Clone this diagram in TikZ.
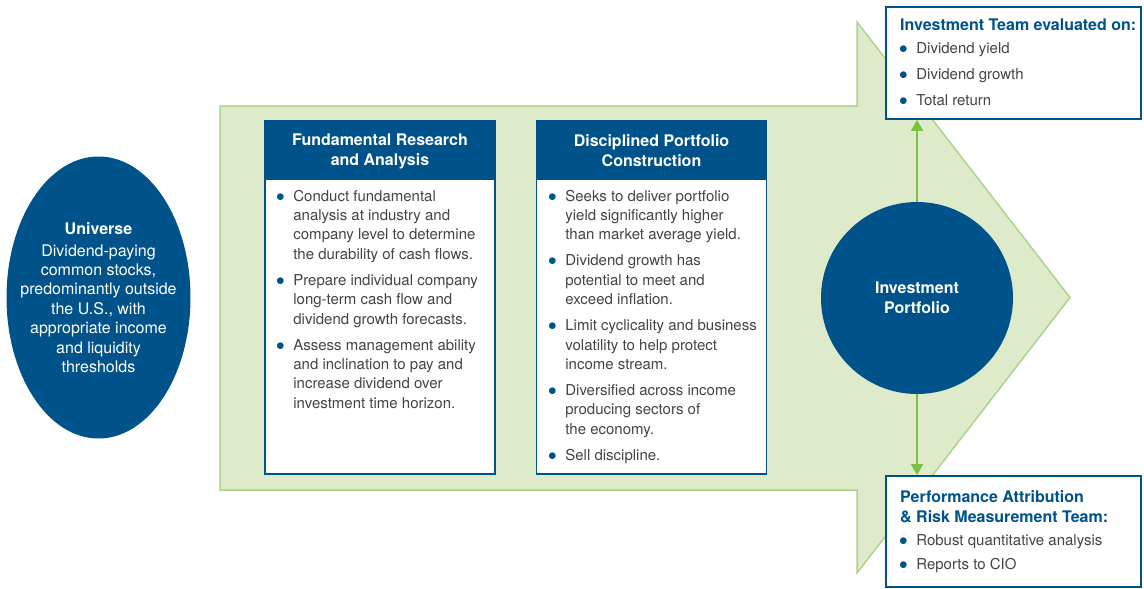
\documentclass[tikz,border=0pt]{standalone}
\usepackage{fontspec}
\setmainfont{TeX Gyre Heros}
\definecolor{navy1}{RGB}{0, 83, 138}
\definecolor{leaf}{RGB}{222, 235, 203}
\definecolor{leafline}{RGB}{172, 211, 141}
\definecolor{leafarrow}{RGB}{125, 193, 66}
\definecolor{bodygray}{RGB}{68, 68, 68}
\usetikzlibrary{shapes, arrows.meta, positioning, calc}

\newcommand{\bul}{\textcolor{navy1}{\fontsize{19}{0}\selectfont$\bullet$}}

\begin{document}
\begin{tikzpicture}[x=1pt, y=-1pt,
  colbox/.style={draw=navy1, line width=1.8pt, fill=white, minimum width=230pt, minimum height=353pt, inner sep=0pt},
  colhead/.style={draw=navy1, line width=1.8pt, fill=navy1, text=white, font=\fontsize{16}{20}\selectfont\bfseries, align=center, minimum width=230pt, minimum height=57pt, inner sep=0pt},
  bodylist/.style={anchor=base west, inner sep=0pt, text=bodygray, font=\fontsize{15}{19.4}\selectfont},
  sidebox/.style={draw=navy1, line width=1.8pt, fill=white, minimum width=255pt, minimum height=112pt, inner sep=0pt},
  sidetitle/.style={anchor=base west, inner sep=0pt, text=navy1, align=left, font=\fontsize{16}{20}\selectfont\bfseries},
  link/.style={-{Triangle[width=12pt, length=11pt]}, line width=2pt, draw=leafarrow}
]
  \useasboundingbox (0,0) rectangle (1144,589);

  \filldraw[fill=leaf, draw=leafline, line width=1.5pt] (220,106) -- (857,106) -- (857,22) -- (1070,297.5) -- (857,573) -- (857,490) -- (220,490) -- cycle;

  \node[ellipse, fill=navy1, minimum width=184pt, minimum height=282pt, inner sep=0pt] (univ) at (98.5,297.5) {};
  \node[text=white, align=center, inner sep=0pt, font=\fontsize{16}{19.4}\selectfont] (univText) at (univ.center) {\textbf{Universe}\\[2.6pt] Dividend-paying\\ common stocks,\\ predominantly outside\\ the U.S., with\\ appropriate income\\ and liquidity\\ thresholds};

  \node[colbox] (research) at (380,297.5) {};
  \node[colhead, anchor=north] (researchHead) at ([yshift=-1.5pt]research.north) {Fundamental Research\\ and Analysis};
  \node[bodylist] (researchList) at (276,201) {\begin{tabular}[t]{@{}l@{\hspace{8.5pt}}l@{}}
    \bul & Conduct fundamental\\
         & analysis at industry and\\
         & company level to determine\\
         & the durability of cash flows.\\[6.6pt]
    \bul & Prepare individual company\\
         & long-term cash flow and\\
         & dividend growth forecasts.\\[6.6pt]
    \bul & Assess management ability\\
         & and inclination to pay and\\
         & increase dividend over\\
         & investment time horizon.
  \end{tabular}};

  \node[colbox] (construct) at (651.5,297.5) {};
  \node[colhead, anchor=north] (constructHead) at ([yshift=-1.5pt]construct.north) {Disciplined Portfolio\\ Construction};
  \node[bodylist] (constructList) at (548,201) {\begin{tabular}[t]{@{}l@{\hspace{8.5pt}}l@{}}
    \bul & Seeks to deliver portfolio\\
         & yield significantly higher\\
         & than market average yield.\\[6.6pt]
    \bul & Dividend growth has\\
         & potential to meet and\\
         & exceed inflation.\\[6.6pt]
    \bul & Limit cyclicality and business\\
         & volatility to help protect\\
         & income stream.\\[6.6pt]
    \bul & Diversified across income\\
         & producing sectors of\\
         & the economy.\\[6.6pt]
    \bul & Sell discipline.
  \end{tabular}};

  \node[circle, fill=navy1, minimum size=192pt, inner sep=0pt, text=white, align=center, font=\fontsize{16}{20}\selectfont\bfseries] (portfolio) at (917,298) {Investment\\ Portfolio};

  \node[sidebox] (teamBox) at (1013.5,63) {};
  \node[sidetitle] (teamTitle) at (900,30.5) {Investment Team evaluated on:};
  \node[bodylist] (teamList) at (899,53.5) {\begin{tabular}[t]{@{}l@{\hspace{8.5pt}}l@{}}
    \bul & Dividend yield\\[6.6pt]
    \bul & Dividend growth\\[6.6pt]
    \bul & Total return
  \end{tabular}};

  \node[sidebox, minimum height=111pt] (riskBox) at (1013.5,531.5) {};
  \node[sidetitle] (riskTitle) at (900,522) {Performance Attribution\\ \& Risk Measurement Team:};
  \node[bodylist] (riskList) at (899,545.5) {\begin{tabular}[t]{@{}l@{\hspace{8.5pt}}l@{}}
    \bul & Robust quantitative analysis\\[4.6pt]
    \bul & Reports to CIO
  \end{tabular}};

  \draw[link] (portfolio.north) -- (portfolio.north |- teamBox.south);
  \draw[link] (portfolio.south) -- (portfolio.south |- riskBox.north);
\end{tikzpicture}
\end{document}
